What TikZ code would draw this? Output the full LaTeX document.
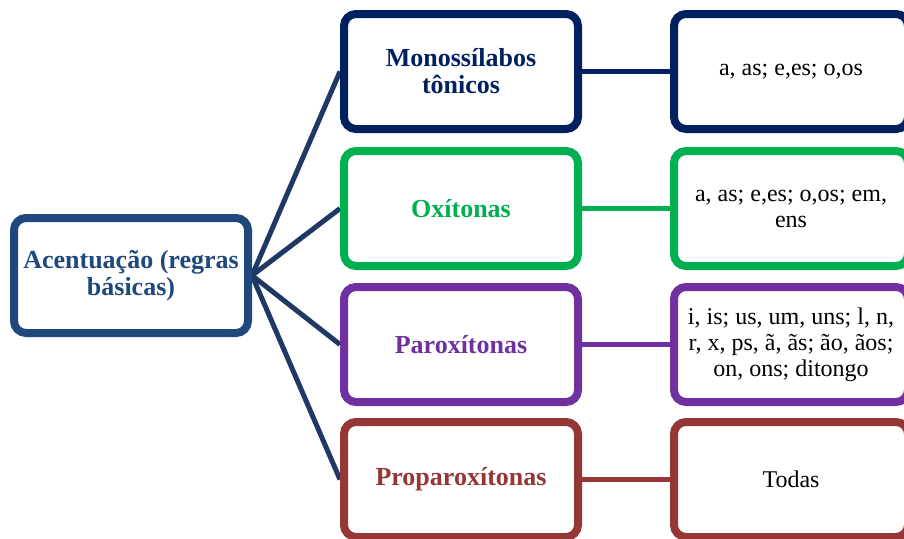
\documentclass[tikz,border=0pt]{standalone}
\usepackage{fontspec}
\setmainfont{Liberation Serif}
\usetikzlibrary{shadows,backgrounds}
\definecolor{rootc}{HTML}{1F497D}
\definecolor{monoc}{HTML}{002060}
\definecolor{oxic}{HTML}{00B050}
\definecolor{paroc}{HTML}{7030A0}
\definecolor{propc}{HTML}{953735}
\definecolor{linkc}{HTML}{1F3864}
\tikzset{
  box/.style={draw, line width=8pt, rounded corners=12pt, fill=white,
    minimum width=234pt, minimum height=115pt, inner sep=0pt, align=center,
    drop shadow={shadow xshift=1.5pt, shadow yshift=-2pt, opacity=0.35, fill=black!60}},
  headtxt/.style={font=\fontsize{26}{27}\selectfont\bfseries},
  bodytxt/.style={font=\fontsize{24}{26}\selectfont, text=black},
  link/.style={line width=5pt},
}
\begin{document}
\begin{tikzpicture}[x=1pt,y=-1pt]
\useasboundingbox (0,0) rectangle (904,538);
\clip (0,0) rectangle (904,538);
% nodes
\node[box, draw=rootc, text=rootc, headtxt] (root) at (131,275.5) {Acentuação (regras\\básicas)};
\node[box, draw=monoc, text=monoc, headtxt] (mono) at (461,71.5) {Monossílabos\\tônicos};
\node[box, draw=oxic, text=oxic, headtxt] (oxi) at (461,208.5) {Oxítonas};
\node[box, draw=paroc, text=paroc, headtxt] (paro) at (461,344.5) {Paroxítonas};
\node[box, draw=propc, text=propc, headtxt] (prop) at (461,479.5) {Proparoxítonas};
\node[box, draw=monoc, bodytxt] (rmono) at (791,71.5) {a, as; e,es; o,os};
\node[box, draw=oxic, bodytxt] (roxi) at (791,208.5) {a, as; e,es; o,os; em,\\ens};
\node[box, draw=paroc, bodytxt] (rparo) at (791,344.5) {i, is; us, um, uns; l, n,\\r, x, ps, ã, ãs; ão, ãos;\\on, ons; ditongo};
\node[box, draw=propc, bodytxt] (rprop) at (791,479.5) {Todas};
% connectors behind boxes
\begin{scope}[on background layer]
\draw[link, draw=linkc] (root.east) -- (mono.west);
\draw[link, draw=linkc] (root.east) -- (oxi.west);
\draw[link, draw=linkc] (root.east) -- (paro.west);
\draw[link, draw=linkc] (root.east) -- (prop.west);
\draw[link, draw=monoc] (mono.east) -- (rmono.west);
\draw[link, draw=oxic] (oxi.east) -- (roxi.west);
\draw[link, draw=paroc] (paro.east) -- (rparo.west);
\draw[link, draw=propc] (prop.east) -- (rprop.west);
\end{scope}
\end{tikzpicture}
\end{document}
